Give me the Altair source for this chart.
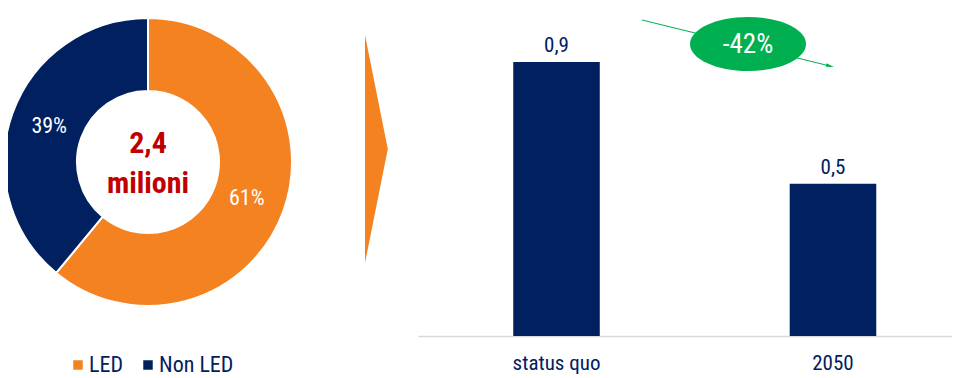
import altair as alt
import pandas as pd

# ---- data ----
donut_labels = ["LED", "Non LED"]
donut_shares = [61, 39]
center_total = "2,4"
center_unit = "milioni"
bar_categories = ["status quo", "2050"]
bar_values = [0.9, 0.5]
bar_value_labels = ["0,9", "0,5"]
change_label = "-42%"

# ---- style ----
NAVY = "#002060"
ORANGE = "#F58220"
GREEN = "#00B050"
RED = "#C00000"
FONT = "'Liberation Sans Narrow', 'Arial Narrow', 'Roboto Condensed', 'Liberation Sans', sans-serif"

donut_df = pd.DataFrame({
    "segment": donut_labels,
    "share": donut_shares,
    "order": list(range(len(donut_labels))),
    "label": [f"{v}%" for v in donut_shares],
})
bar_df = pd.DataFrame({"category": bar_categories, "value": bar_values, "label": bar_value_labels})
change_df = pd.DataFrame({"label": [change_label]})
total_df = pd.DataFrame({"label": [center_total]})
unit_df = pd.DataFrame({"label": [center_unit]})
one = pd.DataFrame({"k": [0]})

CX, CY = 140, 154

arc = alt.Chart(donut_df).mark_arc(outerRadius=144, innerRadius=71, stroke="white", strokeWidth=2).encode(
    theta=alt.Theta("share:Q", stack=True),
    order=alt.Order("order:Q"),
    color=alt.Color(
        "segment:N",
        scale=alt.Scale(domain=donut_labels, range=[ORANGE, NAVY]),
        legend=alt.Legend(
            title=None, orient="none", legendX=59, legendY=346, direction="horizontal",
            symbolType="square", symbolSize=90, symbolStrokeWidth=0,
            labelFont=FONT, labelFontSize=22, labelColor=NAVY, labelOffset=0,
            columnPadding=14, padding=0,
        ),
    ),
    x=alt.value(CX),
    y=alt.value(CY),
)

pct = alt.Chart(donut_df).mark_text(radius=105, font=FONT, fontSize=22, color="white").encode(
    theta=alt.Theta("share:Q", stack=True),
    order=alt.Order("order:Q"),
    text="label:N",
    x=alt.value(CX),
    y=alt.value(CY),
)

total_txt = alt.Chart(total_df).mark_text(font=FONT, fontSize=30, fontWeight="bold", color=RED, baseline="alphabetic").encode(
    text="label:N", x=alt.value(CX), y=alt.value(145)
)
unit_txt = alt.Chart(unit_df).mark_text(font=FONT, fontSize=30, fontWeight="bold", color=RED, baseline="alphabetic").encode(
    text="label:N", x=alt.value(CX), y=alt.value(185)
)

xscale = alt.Scale(domain=bar_categories, range=[410, 963.5], paddingInner=0.687, paddingOuter=0.3445)
yscale = alt.Scale(domain=[0, 1], range=[328, 23.6], nice=False)

xenc = alt.X(
    "category:N", scale=xscale, sort=None,
    axis=alt.Axis(
        title=None, orient="bottom", offset=-42, domainColor="#D9D9D9", domainWidth=1.5,
        ticks=False, tickSize=0, labelFont=FONT, labelFontSize=21, labelColor=NAVY,
        labelPadding=16, labelAngle=0, grid=False,
    ),
)
yenc = alt.Y("value:Q", scale=yscale, axis=None)

bars = alt.Chart(bar_df).mark_bar(color=NAVY).encode(x=xenc, y=yenc)
bar_txt = alt.Chart(bar_df).mark_text(font=FONT, fontSize=21, color=NAVY, baseline="alphabetic", dy=-10).encode(
    x=alt.X("category:N", scale=xscale, sort=None), y=yenc, text="label:N"
)

triangle = alt.Chart(one).mark_point(
    shape="M -0.1 -1 L 0.1 0 L -0.1 1 Z", size=51984, filled=True, color=ORANGE, opacity=1, strokeWidth=0
).encode(x=alt.value(368.4), y=alt.value(141))

arrow_line = alt.Chart(one).mark_rule(color=GREEN, strokeWidth=1).encode(
    x=alt.value(634), y=alt.value(12), x2=alt.value(822), y2=alt.value(58)
)
arrow_head = alt.Chart(one).mark_point(
    shape="M -1 -0.45 L 1 0 L -1 0.45 Z", size=64, filled=True, color=GREEN, opacity=1, angle=13.75, strokeWidth=0
).encode(x=alt.value(822), y=alt.value(58))

k = 0.5523
ry = 0.466
ellipse_path = (
    f"M -1 0 C -1 {-ry*k:.4f} {-k} {-ry} 0 {-ry} C {k} {-ry} 1 {-ry*k:.4f} 1 0 "
    f"C 1 {ry*k:.4f} {k} {ry} 0 {ry} C {-k} {ry} -1 {ry*k:.4f} -1 0 Z"
)
ellipse = alt.Chart(one).mark_point(
    shape=ellipse_path, size=13456, filled=True, color=GREEN, opacity=1, strokeWidth=0
).encode(x=alt.value(740), y=alt.value(36))
change_txt = alt.Chart(change_df).mark_text(font=FONT, fontSize=27, color="white", baseline="middle").encode(
    text="label:N", x=alt.value(740), y=alt.value(37)
)

chart = alt.layer(
    arc, pct, total_txt, unit_txt, triangle, bars, bar_txt, arrow_line, arrow_head, ellipse, change_txt
).properties(
    width=944, height=370, autosize=alt.AutoSizeParams(type="none"), padding=0
).configure_view(stroke=None)

chart.save("out.html", embed_options={"renderer": "svg", "actions": False})
